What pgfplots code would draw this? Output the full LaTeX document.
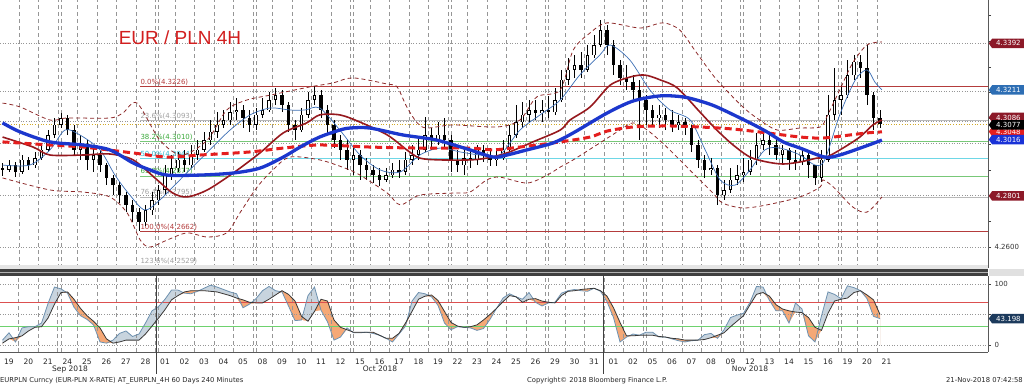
\documentclass[border=0pt]{standalone}
\usepackage{pgfplots}
\pgfplotsset{compat=1.18}
\usepackage{pgfplotstable}
\usetikzlibrary{shapes.symbols}
\usepackage{fontspec}
\newfontfamily\dv{DejaVu Sans}
\newfontfamily\lib{Liberation Sans}
\newcommand{\tf}{\dv\fontsize{7}{8.5}\selectfont}
\newcommand{\xf}{\dv\fontsize{7.5}{9}\selectfont}

\definecolor{thickblue}{RGB}{28,55,205}
\definecolor{reddash}{RGB}{228,30,30}
\definecolor{darkred}{RGB}{150,25,30}
\definecolor{thinblue}{RGB}{60,110,180}
\definecolor{bbcol}{RGB}{140,40,40}
\definecolor{fibred}{RGB}{180,60,60}
\definecolor{fibgrey}{RGB}{185,185,185}
\definecolor{fibgreen}{RGB}{120,200,120}
\definecolor{fibcyan}{RGB}{110,215,230}
\definecolor{labgreen}{RGB}{60,170,60}
\definecolor{labcyan}{RGB}{50,185,205}
\definecolor{labgrey}{RGB}{160,160,160}
\definecolor{gridc}{RGB}{150,150,150}
\definecolor{lastp}{RGB}{210,170,40}
\definecolor{titlered}{RGB}{210,30,30}
\definecolor{boxdred}{RGB}{140,25,40}
\definecolor{boxblue}{RGB}{45,110,180}
\definecolor{boxblue2}{RGB}{25,50,215}
\definecolor{boxnavy}{RGB}{28,58,92}
\definecolor{kcol}{RGB}{110,145,175}
\definecolor{dcol}{RGB}{55,55,55}
\definecolor{kfill}{RGB}{200,212,222}
\definecolor{dfill}{RGB}{245,168,118}
\definecolor{st70}{RGB}{220,80,80}
\definecolor{st30}{RGB}{110,210,110}

\pgfplotstableread{
k o h l c
0 4.2907 4.2927 4.2876 4.2900
1 4.2900 4.2939 4.2892 4.2919
2 4.2919 4.2931 4.2872 4.2892
3 4.2892 4.2958 4.2884 4.2939
4 4.2939 4.2950 4.2900 4.2919
5 4.2919 4.2970 4.2907 4.2946
6 4.2946 4.2997 4.2939 4.2978
7 4.2978 4.3055 4.2970 4.3036
8 4.3036 4.3102 4.3024 4.3075
9 4.3075 4.3121 4.3063 4.3102
10 4.3102 4.3114 4.3036 4.3055
11 4.3055 4.3075 4.2958 4.2978
12 4.2978 4.3036 4.2939 4.2997
13 4.2997 4.3016 4.2900 4.2939
14 4.2939 4.2985 4.2892 4.2958
15 4.2958 4.2978 4.2892 4.2919
16 4.2919 4.2927 4.2841 4.2869
17 4.2869 4.2880 4.2802 4.2841
18 4.2841 4.2853 4.2771 4.2802
19 4.2802 4.2814 4.2736 4.2764
20 4.2764 4.2783 4.2697 4.2736
21 4.2736 4.2752 4.2662 4.2697
22 4.2697 4.2764 4.2682 4.2744
23 4.2744 4.2814 4.2725 4.2783
24 4.2783 4.2841 4.2764 4.2822
25 4.2822 4.2919 4.2802 4.2880
26 4.2880 4.2958 4.2861 4.2907
27 4.2907 4.2970 4.2892 4.2939
28 4.2939 4.2978 4.2892 4.2919
29 4.2919 4.2997 4.2907 4.2958
30 4.2958 4.3016 4.2939 4.2978
31 4.2978 4.3048 4.2970 4.3016
32 4.3016 4.3094 4.2997 4.3048
33 4.3048 4.3125 4.3024 4.3075
34 4.3075 4.3133 4.3063 4.3094
35 4.3094 4.3164 4.3075 4.3125
36 4.3125 4.3180 4.3094 4.3133
37 4.3133 4.3153 4.3063 4.3102
38 4.3102 4.3133 4.3048 4.3075
39 4.3075 4.3141 4.3055 4.3114
40 4.3114 4.3180 4.3102 4.3133
41 4.3133 4.3203 4.3125 4.3172
42 4.3172 4.3219 4.3153 4.3191
43 4.3191 4.3211 4.3125 4.3153
44 4.3153 4.3164 4.3048 4.3075
45 4.3075 4.3094 4.3016 4.3055
46 4.3055 4.3141 4.3048 4.3114
47 4.3114 4.3203 4.3102 4.3172
48 4.3172 4.3226 4.3153 4.3191
49 4.3191 4.3211 4.3102 4.3133
50 4.3133 4.3153 4.3036 4.3075
51 4.3075 4.3094 4.2985 4.3016
52 4.3016 4.3036 4.2939 4.2978
53 4.2978 4.3016 4.2900 4.2939
54 4.2939 4.2997 4.2880 4.2958
55 4.2958 4.2978 4.2861 4.2919
56 4.2919 4.2946 4.2861 4.2900
57 4.2900 4.2919 4.2849 4.2880
58 4.2880 4.2907 4.2837 4.2861
59 4.2861 4.2907 4.2853 4.2880
60 4.2880 4.2927 4.2869 4.2900
61 4.2900 4.2939 4.2869 4.2892
62 4.2892 4.2970 4.2880 4.2939
63 4.2939 4.2997 4.2919 4.2958
64 4.2958 4.3024 4.2939 4.2978
65 4.2978 4.3106 4.2970 4.3036
66 4.3036 4.3063 4.2978 4.3016
67 4.3016 4.3086 4.2997 4.3036
68 4.3036 4.3102 4.2985 4.3016
69 4.3016 4.3036 4.2892 4.2939
70 4.2939 4.2978 4.2892 4.2919
71 4.2919 4.2978 4.2880 4.2946
72 4.2946 4.2978 4.2907 4.2939
73 4.2939 4.2997 4.2919 4.2978
74 4.2978 4.2997 4.2931 4.2958
75 4.2958 4.2985 4.2915 4.2939
76 4.2939 4.2978 4.2915 4.2946
77 4.2946 4.3016 4.2939 4.2978
78 4.2978 4.3075 4.2970 4.3036
79 4.3036 4.3153 4.3024 4.3086
80 4.3086 4.3164 4.3063 4.3114
81 4.3114 4.3172 4.3086 4.3133
82 4.3133 4.3172 4.3094 4.3121
83 4.3121 4.3172 4.3086 4.3133
84 4.3133 4.3188 4.3102 4.3125
85 4.3125 4.3219 4.3114 4.3172
86 4.3172 4.3289 4.3164 4.3250
87 4.3250 4.3335 4.3230 4.3289
88 4.3289 4.3347 4.3258 4.3308
89 4.3308 4.3359 4.3258 4.3289
90 4.3289 4.3386 4.3281 4.3347
91 4.3347 4.3425 4.3335 4.3386
92 4.3386 4.3483 4.3378 4.3444
93 4.3444 4.3464 4.3347 4.3386
94 4.3386 4.3405 4.3269 4.3308
95 4.3308 4.3328 4.3230 4.3258
96 4.3258 4.3308 4.3211 4.3242
97 4.3242 4.3269 4.3172 4.3211
98 4.3211 4.3250 4.3016 4.3172
99 4.3172 4.3191 4.3075 4.3133
100 4.3133 4.3153 4.3075 4.3102
101 4.3102 4.3153 4.3063 4.3114
102 4.3114 4.3141 4.3055 4.3094
103 4.3094 4.3133 4.3048 4.3075
104 4.3075 4.3114 4.3055 4.3086
105 4.3086 4.3102 4.3036 4.3063
106 4.3063 4.3075 4.2970 4.2997
107 4.2997 4.3016 4.2907 4.2939
108 4.2939 4.2958 4.2869 4.2900
109 4.2900 4.2946 4.2880 4.2907
110 4.2907 4.2919 4.2764 4.2802
111 4.2802 4.2861 4.2783 4.2822
112 4.2822 4.2907 4.2810 4.2861
113 4.2861 4.2919 4.2841 4.2880
114 4.2880 4.2946 4.2853 4.2892
115 4.2892 4.2978 4.2880 4.2939
116 4.2939 4.3044 4.2919 4.2997
117 4.2997 4.3044 4.2978 4.3016
118 4.3016 4.3036 4.2958 4.2997
119 4.2997 4.3024 4.2939 4.2958
120 4.2958 4.2997 4.2919 4.2978
121 4.2978 4.2985 4.2900 4.2939
122 4.2939 4.2978 4.2900 4.2931
123 4.2931 4.2985 4.2919 4.2958
124 4.2958 4.2970 4.2869 4.2919
125 4.2919 4.2919 4.2841 4.2869
126 4.2869 4.2978 4.2853 4.2939
127 4.2939 4.3191 4.2931 4.3114
128 4.3114 4.3296 4.3094 4.3172
129 4.3172 4.3230 4.3114 4.3191
130 4.3191 4.3328 4.3180 4.3269
131 4.3269 4.3347 4.3250 4.3320
132 4.3320 4.3347 4.3258 4.3296
133 4.3296 4.3386 4.3153 4.3191
134 4.3191 4.3203 4.3055 4.3102
135 4.3102 4.3133 4.3063 4.3079
}\candles

\pgfplotstableread{
k p
0 4.3083
2.7 4.3048
7.3 4.3009
12.4 4.2997
16.5 4.2978
20.1 4.2927
22.7 4.2900
25.3 4.2880
30.4 4.2880
35.5 4.2888
39.6 4.2907
43.2 4.2950
45.8 4.2989
48.8 4.3028
51.9 4.3055
53.5 4.3063
56.5 4.3063
61.6 4.3036
66.8 4.3016
71.9 4.2978
75.5 4.2950
77.6 4.2958
80.7 4.2978
84.7 4.3005
87.8 4.3044
93.0 4.3121
97.0 4.3168
101.2 4.3188
104.7 4.3184
107.3 4.3168
109.9 4.3145
115.0 4.3083
117.6 4.3048
120.1 4.3009
122.7 4.2985
126.5 4.2950
128.8 4.2958
132.4 4.2989
135.3 4.3016
}\tbb

\pgfplotstableread{
k p
0 4.3009
7.3 4.2997
12.4 4.2989
20.1 4.2966
25.3 4.2950
30.4 4.2958
38.1 4.2970
43.2 4.2985
48.8 4.2997
56.5 4.2989
64.2 4.2985
71.9 4.2985
75.5 4.2978
79.6 4.2989
85.8 4.3009
90.4 4.3028
93.0 4.3051
97.0 4.3067
102.2 4.3071
107.3 4.3067
112.4 4.3059
117.6 4.3044
122.7 4.3028
126.2 4.3024
130.4 4.3036
133.0 4.3044
135.3 4.3048
}\trd

\pgfplotstableread{
k p
0 4.3028
4.7 4.2989
7.3 4.2958
12.4 4.2958
16.5 4.2962
20.1 4.2939
23.8 4.2861
26.2 4.2810
28.4 4.2795
31.5 4.2822
35.5 4.2888
39.6 4.2966
43.2 4.3044
46.8 4.3083
48.8 4.3114
51.9 4.3114
55.0 4.3086
59.2 4.3036
62.2 4.2978
64.2 4.2946
67.3 4.2939
71.9 4.2939
74.5 4.2946
77.6 4.2966
81.6 4.3009
85.8 4.3055
87.3 4.3094
90.4 4.3145
93.5 4.3230
96.5 4.3261
98.8 4.3269
101.2 4.3250
103.8 4.3219
107.3 4.3125
109.9 4.3055
112.4 4.2997
115.0 4.2950
117.6 4.2931
120.1 4.2923
122.7 4.2931
125.3 4.2946
126.8 4.2950
129.3 4.2985
131.9 4.3028
133.9 4.3075
135.3 4.3094
}\tdr

\pgfplotstableread{
k p
0 4.2919
4.2 4.2919
7.3 4.2978
9.6 4.3055
11.9 4.3036
15.0 4.2978
17.3 4.2880
19.6 4.2802
21.9 4.2744
24.2 4.2783
26.5 4.2841
28.8 4.2900
31.9 4.2978
35.0 4.3055
38.1 4.3114
41.2 4.3141
44.2 4.3133
46.5 4.3133
48.8 4.3141
51.9 4.3055
55.0 4.2958
58.1 4.2900
61.2 4.2892
64.2 4.2958
67.3 4.2985
70.4 4.2970
73.5 4.2958
76.5 4.2958
79.6 4.3055
82.7 4.3114
85.8 4.3172
88.8 4.3269
91.9 4.3347
93.5 4.3386
96.5 4.3328
99.6 4.3211
102.7 4.3133
105.8 4.3094
108.1 4.2978
110.4 4.2861
112.7 4.2841
115.0 4.2900
117.3 4.2978
119.6 4.2985
122.7 4.2958
125.0 4.2919
126.5 4.2939
128.8 4.3114
131.2 4.3250
133.0 4.3289
134.2 4.3242
135.3 4.3211
}\ttb

\pgfplotstableread{
k p
0 4.3160
2.7 4.3145
7.3 4.3094
9.9 4.3102
16.5 4.3102
18.5 4.3121
20.7 4.3160
24.2 4.3016
27.6 4.2958
31.5 4.3016
34.5 4.3133
37.6 4.3172
41.2 4.3191
47.3 4.3223
50.8 4.3238
53.9 4.3258
59.2 4.3234
60.7 4.3223
62.2 4.3145
63.8 4.3083
65.3 4.3063
69.3 4.3075
76.1 4.3067
79.6 4.3094
82.2 4.3184
85.8 4.3211
87.8 4.3366
90.4 4.3433
93.0 4.3472
98.1 4.3452
101.6 4.3472
104.2 4.3444
106.8 4.3355
109.9 4.3250
113.9 4.3145
116.5 4.3094
119.2 4.3055
122.7 4.3063
125.8 4.3067
126.8 4.3106
128.8 4.3211
130.8 4.3316
133.0 4.3386
135.3 4.3398
}\tbu

\pgfplotstableread{
k p
0 4.2869
7.3 4.2822
12.4 4.2814
16.5 4.2795
19.2 4.2732
21.2 4.2627
22.7 4.2600
25.3 4.2627
28.4 4.2655
31.5 4.2639
34.5 4.2655
36.5 4.2732
39.2 4.2834
41.6 4.2900
44.2 4.2950
48.8 4.2939
52.7 4.2907
55.0 4.2880
59.2 4.2810
61.2 4.2764
64.2 4.2802
69.3 4.2810
71.9 4.2814
74.5 4.2861
76.5 4.2872
80.7 4.2849
83.8 4.2880
85.8 4.2911
87.8 4.2939
91.9 4.3005
95.0 4.3055
97.0 4.3083
99.2 4.3055
102.2 4.2989
106.2 4.2888
109.3 4.2810
110.8 4.2771
113.9 4.2752
117.6 4.2764
122.7 4.2795
125.8 4.2834
126.2 4.2861
127.8 4.2834
130.8 4.2756
133.0 4.2736
135.3 4.2795
}\tbl

\pgfplotstableread{
k K D
0 8 3
1 20 10
2 5 12
3 28 15
4 30 23
5 30 29
6 36 30
7 68 44
8 95 67
9 92 86
10 85 87
11 62 75
12 48 60
13 42 48
14 33 39
15 5 28
16 3 10
17 8 3
18 19 5
19 23 8
20 14 8
21 18 8
22 36 18
23 56 31
24 63 44
25 75 58
26 90 74
27 90 81
28 85 87
29 84 89
30 88 89
31 93 89
32 98 88
33 95 87
34 91 84
35 87 81
36 84 77
37 61 74
38 67 70
39 76 69
40 89 69
41 96 75
42 89 82
43 87 89
44 64 83
45 40 72
46 41 47
47 81 39
48 95 55
49 57 75
50 38 72
51 8 41
52 13 29
53 28 25
54 20 21
55 20 21
56 21 21
57 19 21
58 16 16
59 11 11
60 5 11
61 18 19
62 31 36
63 72 55
64 86 75
65 84 80
66 79 82
67 65 73
68 36 55
69 25 37
70 30 31
71 29 29
72 28 30
73 24 33
74 27 41
75 42 50
76 60 60
77 77 71
78 84 81
79 79 79
80 75 70
81 86 75
82 70 76
83 64 72
84 69 70
85 70 69
86 85 81
87 89 88
88 91 89
89 89 91
90 88 92
91 93 93
92 88 89
93 71 80
94 45 61
95 5 37
96 13 15
97 18 15
98 16 16
99 21 16
100 21 16
101 13 14
102 13 13
103 10 11
104 7 10
105 5 8
106 7 8
107 8 8
108 17 9
109 19 12
110 11 16
111 25 20
112 45 30
113 49 39
114 52 48
115 70 66
116 96 83
117 95 86
118 73 80
119 56 66
120 56 59
121 36 56
122 69 54
123 59 53
124 15 45
125 5 29
126 48 24
127 87 52
128 83 72
129 76 75
130 97 77
131 94 86
132 89 89
133 76 82
134 47 74
135 43.2 50
}\stoch

\tikzset{
  vgrid/.style={gridc, line width=0.5pt, dash pattern=on 4pt off 3pt},
  tag/.style={signal, signal to=west, signal pointer angle=110, draw=none, fill=#1,
    text=white, font=\tf, inner xsep=2pt, inner ysep=1pt, minimum height=9.5pt,
    minimum width=36pt, anchor=west, xshift=0.5pt},
  fiblab/.style={font=\tf, anchor=base west, inner sep=0pt, yshift=2pt},
}

\begin{document}
\begin{tikzpicture}
\path[use as bounding box] (0pt,0pt) rectangle (1024pt,385pt);

% ================= main panel =================
\begin{axis}[
  at={(0pt,117pt)}, anchor=south west, scale only axis,
  width=988pt, height=268pt,
  xmin=-0.3846, xmax=151.615, ymin=4.25185, ymax=4.3561,
  clip=false,
  axis x line=none, axis y line*=right,
  axis line style={-, draw=black!65},
  ytick={4.26,4.27,4.28,4.29,4.30,4.31,4.32,4.33,4.34,4.35},
  yticklabels={4.2600,,,,,,,,,},
  tick align=outside, major tick length=3pt,
  ytick style={draw=black!75, line width=0.6pt},
  yticklabel style={font=\tf, text=black!80},
]
\pgfplotsinvokeforeach{2.5,5.5,...,134.5}{
  \draw[vgrid] (axis cs:#1,4.25185) -- (axis cs:#1,4.3561);
}
\pgfplotsinvokeforeach{9.0,24.0,39.0,54.0,69.0,84.0,99.0,114.0,129.0}{
  \draw[vgrid] (axis cs:#1,4.25185) -- (axis cs:#1,4.3561);
}
\addplot[gridc, line width=0.6pt, dotted, forget plot] coordinates {(-0.3846,4.3392) (151.615,4.3392)};
\addplot[gridc, line width=0.6pt, dotted, forget plot] coordinates {(-0.3846,4.3206) (151.615,4.3206)};
\addplot[gridc, line width=0.6pt, dotted, forget plot] coordinates {(-0.3846,4.3090) (151.615,4.3090)};
\addplot[lastp, line width=0.7pt, dotted, forget plot] coordinates {(-0.3846,4.3077) (151.615,4.3077)};
\addplot[gridc, line width=0.6pt, dotted, forget plot] coordinates {(-0.3846,4.3005) (151.615,4.3005)};
\addplot[gridc, line width=0.6pt, dotted, forget plot] coordinates {(-0.3846,4.2801) (151.615,4.2801)};
\addplot[gridc, line width=0.6pt, dotted, forget plot] coordinates {(-0.3846,4.2600) (151.615,4.2600)};
\addplot[fibred, line width=0.6pt, forget plot] coordinates {(21.2,4.3226) (151.615,4.3226)};
\addplot[fibgrey, line width=0.6pt, forget plot] coordinates {(21.2,4.3093) (151.615,4.3093)};
\addplot[fibgreen, line width=0.6pt, forget plot] coordinates {(21.2,4.3010) (151.615,4.3010)};
\addplot[fibcyan, line width=0.9pt, forget plot] coordinates {(21.2,4.2944) (151.615,4.2944)};
\addplot[fibgreen, line width=0.6pt, forget plot] coordinates {(21.2,4.2877) (151.615,4.2877)};
\addplot[fibgrey, line width=0.6pt, forget plot] coordinates {(21.2,4.2795) (151.615,4.2795)};
\addplot[fibred, line width=0.6pt, forget plot] coordinates {(21.2,4.2662) (151.615,4.2662)};
\addplot[fibgrey, line width=0.6pt, forget plot] coordinates {(21.2,4.2529) (151.615,4.2529)};
\node[fiblab, text=fibred] at (axis cs:21.2,4.3226) {0.0\%(4.3226)};
\node[fiblab, text=labgrey] at (axis cs:21.2,4.3093) {23.6\%(4.3093)};
\node[fiblab, text=labgreen] at (axis cs:21.2,4.3010) {38.2\%(4.3010)};
\node[fiblab, text=labcyan] at (axis cs:21.2,4.2944) {50.0\%(4.2944)};
\node[fiblab, text=labgreen] at (axis cs:21.2,4.2877) {61.8\%(4.2877)};
\node[fiblab, text=labgrey] at (axis cs:21.2,4.2795) {76.4\%(4.2795)};
\node[fiblab, text=fibred] at (axis cs:21.2,4.2662) {100.0\%(4.2662)};
\node[fiblab, text=labgrey] at (axis cs:21.2,4.2529) {123.6\%(4.2529)};
\addplot[draw=none, mark=none, forget plot,
  error bars/.cd, y dir=both, y explicit, error mark=none,
  error bar style={draw=black, line width=0.7pt, solid}]
  table[x=k, y expr={(\thisrow{h}+\thisrow{l})/2}, y error expr={(\thisrow{h}-\thisrow{l})/2}] {\candles};
\addplot[draw=none, mark=none, forget plot,
  error bars/.cd, y dir=both, y explicit, error mark=none,
  error bar style={draw=black, line width=3.2pt, solid}]
  table[x=k, y expr={(\thisrow{o}+\thisrow{c})/2}, y error expr={abs(\thisrow{o}-\thisrow{c})/2}] {\candles};
\addplot[draw=none, mark=none, forget plot,
  error bars/.cd, y dir=both, y explicit, error mark=none,
  error bar style={draw=white, line width=1.6pt, solid}]
  table[x=k, y expr={(\thisrow{o}+\thisrow{c})/2}, y error expr={max(0,(\thisrow{c}-\thisrow{o})/2-0.0002)}] {\candles};
\addplot[bbcol, line width=0.8pt, dash pattern=on 4pt off 3pt, smooth, tension=0.5, forget plot] table[x=k,y=p] {\tbu};
\addplot[bbcol, line width=0.8pt, dash pattern=on 4pt off 3pt, smooth, tension=0.5, forget plot] table[x=k,y=p] {\tbl};
\addplot[thinblue, line width=0.7pt, smooth, tension=0.5, forget plot] table[x=k,y=p] {\ttb};
\addplot[darkred, line width=1.6pt, smooth, tension=0.5, forget plot] table[x=k,y=p] {\tdr};
\addplot[reddash, line width=3pt, dash pattern=on 7pt off 4pt, smooth, tension=0.5, forget plot] table[x=k,y=p] {\trd};
\addplot[thickblue, line width=3.3pt, smooth, tension=0.5, forget plot] table[x=k,y=p] {\tbb};
\node[tag=boxdred] at (axis cs:151.615,4.3392) {4.3392};
\node[tag=boxblue] at (axis cs:151.615,4.3211) {4.3211};
\node[tag=boxdred] at (axis cs:151.615,4.3104) {4.3086};
\node[tag=reddash] at (axis cs:151.615,4.3049) {4.3048};
\node[tag=black] at (axis cs:151.615,4.3075) {4.3077};
\node[tag=boxblue2] at (axis cs:151.615,4.3018) {4.3016};
\node[tag=boxdred] at (axis cs:151.615,4.2799) {4.2801};
\end{axis}

% ================= stochastic panel =================
\begin{axis}[
  at={(0pt,33pt)}, anchor=south west, scale only axis,
  width=988pt, height=76pt,
  xmin=-0.3846, xmax=151.615, ymin=-11.475, ymax=113.11,
  clip=false,
  axis x line*=bottom, axis y line*=right,
  axis line style={-, draw=black!65},
  xtick={1,4,...,136},
  xticklabels={19,20,21,24,25,26,27,28,01,02,03,04,05,08,09,10,11,12,15,16,17,18,19,22,23,24,25,26,29,30,31,01,02,05,06,07,08,09,12,13,14,15,16,19,20,21},
  xtick style={draw=none},
  xticklabel style={font=\xf, text=black!85},
  ytick={0,50,100}, yticklabels={0,,100},
  tick align=outside, major tick length=3pt,
  ytick style={draw=black!75, line width=0.6pt},
  yticklabel style={font=\tf, text=black!80},
]
\addplot[fill=kfill, draw=none, forget plot] table[x=k,y=K] {\stoch} \closedcycle;
\addplot[fill=dfill, draw=none, forget plot] table[x=k,y=D] {\stoch} \closedcycle;
\addplot[fill=white, draw=none, forget plot] table[x=k,y expr={min(\thisrow{K},\thisrow{D})}] {\stoch} \closedcycle;
\pgfplotsinvokeforeach{2.5,5.5,...,134.5}{
  \draw[vgrid] (axis cs:#1,-11.475) -- (axis cs:#1,113.11);
}
\pgfplotsinvokeforeach{9.0,24.0,39.0,54.0,69.0,84.0,99.0,114.0,129.0}{
  \draw[vgrid] (axis cs:#1,-11.475) -- (axis cs:#1,113.11);
}
\addplot[gridc, line width=0.6pt, dotted, forget plot] coordinates {(-0.3846,100) (151.615,100)};
\addplot[gridc, line width=0.6pt, dotted, forget plot] coordinates {(-0.3846,50) (151.615,50)};
\addplot[gridc, line width=0.6pt, dotted, forget plot] coordinates {(-0.3846,0) (151.615,0)};
\addplot[st70, line width=0.8pt, forget plot] coordinates {(-0.3846,70) (151.615,70)};
\addplot[st30, line width=0.8pt, forget plot] coordinates {(-0.3846,30) (151.615,30)};
\addplot[kcol, line width=0.8pt, forget plot] table[x=k,y=K] {\stoch};
\addplot[dcol, line width=0.8pt, forget plot] table[x=k,y=D] {\stoch};
\node[tag=boxnavy] at (axis cs:151.615,43.198) {43.198};
\end{axis}

\draw[black!75, line width=0.6pt] (156pt,109pt) -- (156pt,11pt);
\draw[black!75, line width=0.6pt] (603.75pt,109pt) -- (603.75pt,11pt);
\node[font=\xf, text=black!85] at (70pt,16pt) {Sep 2018};
\node[font=\xf, text=black!85] at (380pt,16pt) {Oct 2018};
\node[font=\xf, text=black!85] at (750pt,16pt) {Nov 2018};

\fill[black!10] (0pt,116pt) rectangle (988pt,120pt);
\fill[black!75] (0pt,109pt) rectangle (988pt,115.5pt);
\fill[black!30] (0pt,112pt) rectangle (988pt,113pt);
\fill[black!12] (988.5pt,109pt) rectangle (1024pt,115.5pt);

\node[font=\lib\fontsize{19}{22}\selectfont, text=titlered] at (180pt,347.5pt) {EUR / PLN 4H};

\node[anchor=base west, inner sep=0pt, font=\dv\fontsize{6.8}{8}\selectfont, text=black!85] at (0pt,2.5pt) {EURPLN Curncy (EUR-PLN X-RATE) AT\_EURPLN\_4H 60 Days 240 Minutes};
\node[anchor=base west, inner sep=0pt, font=\dv\fontsize{6.8}{8}\selectfont, text=black!85] at (527pt,2.5pt) {Copyright© 2018 Bloomberg Finance L.P.};
\node[anchor=base east, inner sep=0pt, font=\dv\fontsize{6.8}{8}\selectfont, text=black!85] at (1023pt,2.5pt) {21-Nov-2018 07:42:58};
\end{tikzpicture}
\end{document}
